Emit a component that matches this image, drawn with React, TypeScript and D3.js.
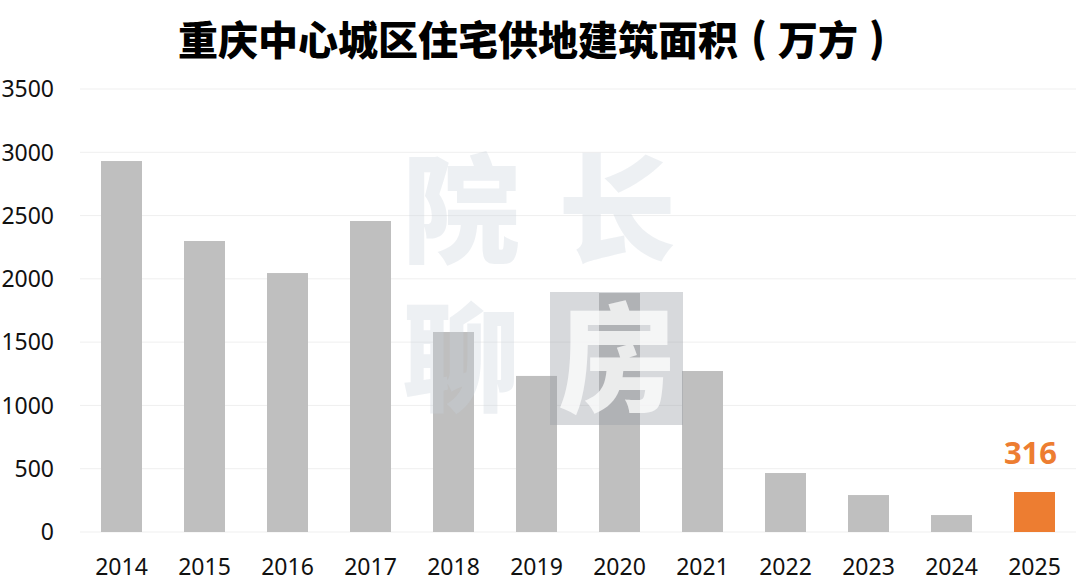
import React from "react";
import * as d3 from "d3";

const years = ["2014","2015","2016","2017","2018","2019","2020","2021","2022","2023","2024","2025"];
const values = [2931, 2299, 2046, 2457, 1580, 1233, 1888, 1272, 466, 292, 134, 316];
const yTicks = [0, 500, 1000, 1500, 2000, 2500, 3000, 3500];
const highlightYear = "2025";
const titleMain = "重庆中心城区住宅供地建筑面积";
const titleUnit = "万方";

const W = 1080, H = 582;
const left = 80, right = 1076, top = 89, bottom = 532;

export default function App() {
  const x = d3.scaleBand<string>().domain(years).range([80, 1076]).paddingInner(0.506).paddingOuter(0.253);
  const y = d3.scaleLinear().domain([0, 3500]).range([bottom, top]);
  const bw = x.bandwidth();
  const font = "'Noto Sans CJK SC', 'Noto Sans', sans-serif";
  const numFont = "'Noto Sans', 'Open Sans', sans-serif";
  return (
    <svg width={W} height={H} style={{ position: "absolute", left: 0, top: 0, background: "#fff" }}>
      <rect x={0} y={0} width={W} height={H} fill="#fff" />
      <g fontFamily={font} fontWeight={900} fontSize={40} fill="#000">
        <text x={178} y={55} textLength={560} lengthAdjust="spacingAndGlyphs">{titleMain}</text>
        <text x={751} y={53}>(</text>
        <text x={778} y={55}>{titleUnit}</text>
        <text x={869} y={53}>)</text>
      </g>
      {yTicks.map(t => (
        <g key={t}>
          <line x1={left} x2={right} y1={y(t)} y2={y(t)} stroke="#efefef" strokeWidth={1} />
          <text x={54} y={y(t)} dy="0.36em" textAnchor="end" fontFamily={numFont} fontSize={23} fill="#111">{t}</text>
        </g>
      ))}
      {years.map((yr, i) => (
        <g key={yr}>
          <rect x={x(yr)!} y={y(values[i])} width={bw} height={bottom - y(values[i])} fill={yr === highlightYear ? "#ed7d31" : "#bfbfbf"} />
          <text x={x(yr)! + bw / 2} y={575} textAnchor="middle" fontFamily={numFont} fontSize={23} fill="#111">{yr}</text>
        </g>
      ))}
      {years.map((yr, i) => yr === highlightYear ? (
        <text key={"l" + yr} x={x(yr)! + bw / 2 - 4} y={464} textAnchor="middle" fontFamily={numFont} fontWeight={700} fontSize={31} fill="#ed7d31">{values[i]}</text>
      ) : null)}
      {/* watermark */}
      <g fontFamily={font} fontWeight={900} fontSize={118}>
        <rect x={550} y={292} width={133} height={133} fill="#9aa0a8" fillOpacity={0.4} />
        <text fill="#c8d0dc" fillOpacity={0.33}>
          <tspan x={402} y={254}>院</tspan>
          <tspan x={558} y={254}>长</tspan>
          <tspan x={402} y={402}>聊</tspan>
          <tspan x={558} y={402} fill="#ffffff" fillOpacity={0.75}>房</tspan>
        </text>
      </g>
    </svg>
  );
}
